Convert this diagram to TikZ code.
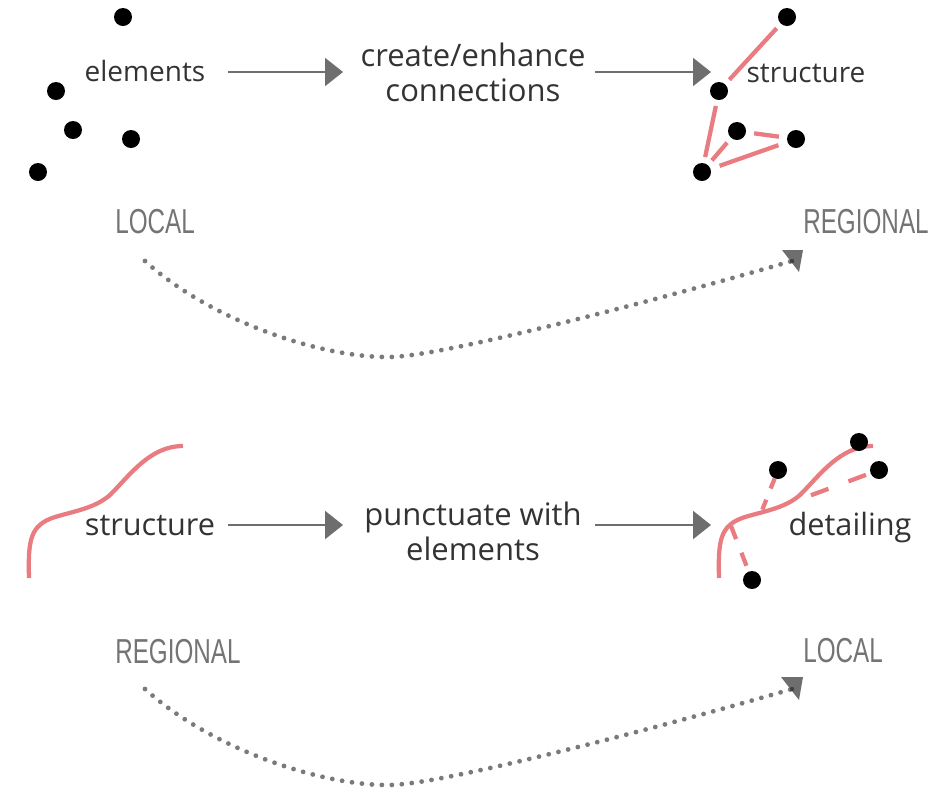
\documentclass[tikz,border=0pt]{standalone}
\usepackage{fontspec}
\setmainfont{Open Sans}
\newfontfamily\handfont[FakeStretch=0.7]{Liberation Sans}
\usetikzlibrary{arrows.meta}
\definecolor{txt}{HTML}{333333}
\definecolor{arrg}{HTML}{6E6E6E}
\definecolor{pinkl}{HTML}{E87C80}
\definecolor{dotg}{HTML}{7A7A7A}
\definecolor{handg}{HTML}{747474}
\begin{document}
\begin{tikzpicture}[x=0.75pt,y=-0.75pt,
  blackdot/.style={circle, fill=black, inner sep=0pt, minimum size=13.5pt},
  sidelbl/.style={text=txt, font=\fontsize{21}{26}\selectfont, inner sep=0pt, anchor=base},
  sidelblb/.style={text=txt, font=\fontsize{23}{28}\selectfont, inner sep=0pt, anchor=base},
  midlbl/.style={text=txt, font=\fontsize{23.25}{26.25}\selectfont, align=center, inner sep=0pt},
  flowarrow/.style={draw=arrg, line width=1.8pt, -{Triangle[length=13.5pt,width=21pt]}},
  link/.style={draw=pinkl, line width=3.2pt, shorten <=4.5pt, shorten >=4.5pt},
  dashlink/.style={draw=pinkl, line width=3.2pt},
  pinkcurve/.style={draw=pinkl, line width=3.2pt},
  dotpath/.style={draw=dotg, line width=3.6pt, line cap=round, dash pattern=on 0pt off 7.5pt},
  scaletag/.style={text=handg, font=\handfont\fontsize{26}{30}\selectfont, anchor=base west, inner sep=0pt},
  tiphead/.style={fill=arrg, draw=none}
]
\useasboundingbox (0,0) rectangle (943,790);

% ---------- top row ----------
\node[blackdot] (e1) at (123,17) {};
\node[blackdot] (e2) at (56,91) {};
\node[blackdot] (e3) at (73,130) {};
\node[blackdot] (e4) at (131,139) {};
\node[blackdot] (e5) at (38,172) {};
\node[sidelbl] (elements) at (145,81) {elements};

\coordinate (a1s) at (228,72);
\coordinate (a1e) at (343,72);
\draw[flowarrow] (a1s) -- (a1e);
\node[midlbl] (create) at (473,72) {create/enhance\\connections};
\coordinate (a2s) at (595,72);
\coordinate (a2e) at (711,72);
\draw[flowarrow] (a2s) -- (a2e);

\node[blackdot] (s1) at (787,17) {};
\node[blackdot] (s2) at (719,91) {};
\node[blackdot] (s3) at (737,131) {};
\node[blackdot] (s4) at (796,139) {};
\node[blackdot] (s5) at (702,172) {};
\node[sidelbl] (structtop) at (806,82) {structure};
\draw[link] (s1) -- (s2);
\draw[link] (s2) -- (s5);
\draw[link] (s5) -- (s3);
\draw[link, shorten <=6pt, shorten >=6pt] (s3) -- (s4);
\draw[link, shorten <=7pt, shorten >=7pt] (s5) -- (s4);

\node[scaletag] (localtop) at (115,233) {LOCAL};
\node[scaletag] (regionaltop) at (803,233) {REGIONAL};

\coordinate (d1s) at (145,261);
\coordinate (d1m) at (390,357);
\coordinate (d1e) at (792,261);
\draw[dotpath] (d1s) .. controls (210,320) and (320,358) .. (d1m)
  .. controls (450,356) and (700,288) .. (d1e);
\fill[tiphead] (782,250) -- (803,250) -- (799,272) -- cycle;
\fill[black!75] (d1e) circle (2.2);

% ---------- bottom row ----------
\draw[pinkcurve] (29,578) .. controls (28,540) and (30,525) .. (55,517)
  .. controls (75,511) and (95,508) .. (110,495)
  .. controls (130,475) and (150,446) .. (183,446);
\node[sidelblb] (structbot) at (150,535) {structure};

\coordinate (b1s) at (228,525);
\coordinate (b1e) at (343,525);
\draw[flowarrow] (b1s) -- (b1e);
\node[midlbl] (punct) at (473,531) {punctuate with\\elements};
\coordinate (b2s) at (595,525);
\coordinate (b2e) at (711,525);
\draw[flowarrow] (b2s) -- (b2e);

\begin{scope}[shift={(690,0)}]
\draw[pinkcurve] (29,578) .. controls (28,540) and (30,525) .. (55,517)
  .. controls (75,511) and (95,508) .. (110,495)
  .. controls (130,475) and (150,446) .. (183,446);
\end{scope}
\node[blackdot] (p1) at (859,442) {};
\node[blackdot] (p2) at (778,470) {};
\node[blackdot] (p3) at (879,470) {};
\node[blackdot] (p4) at (752,580) {};
\coordinate (c2) at (761,513);
\coordinate (c3) at (809,496);
\coordinate (c4) at (731,526);
\draw[dashlink, dash pattern=on 8pt off 9pt] (p2) -- (c2);
\draw[dashlink, dash pattern=on 14pt off 16pt, shorten <=3.5pt] (p3) -- (c3);
\draw[dashlink, dash pattern=on 10.5pt off 11pt, shorten >=3pt] (c4) -- (p4);
\node[sidelblb] (detailing) at (850,535) {detailing};

\node[scaletag] (regionalbot) at (115,663) {REGIONAL};
\node[scaletag] (localbot) at (803,662) {LOCAL};

\coordinate (d2s) at (145,689);
\coordinate (d2m) at (390,785);
\coordinate (d2e) at (792,689);
\draw[dotpath] (d2s) .. controls (210,748) and (320,786) .. (d2m)
  .. controls (450,784) and (700,716) .. (d2e);
\fill[tiphead] (781,677) -- (803,677) -- (799,700) -- cycle;
\fill[black!75] (d2e) circle (2.2);
\end{tikzpicture}
\end{document}
